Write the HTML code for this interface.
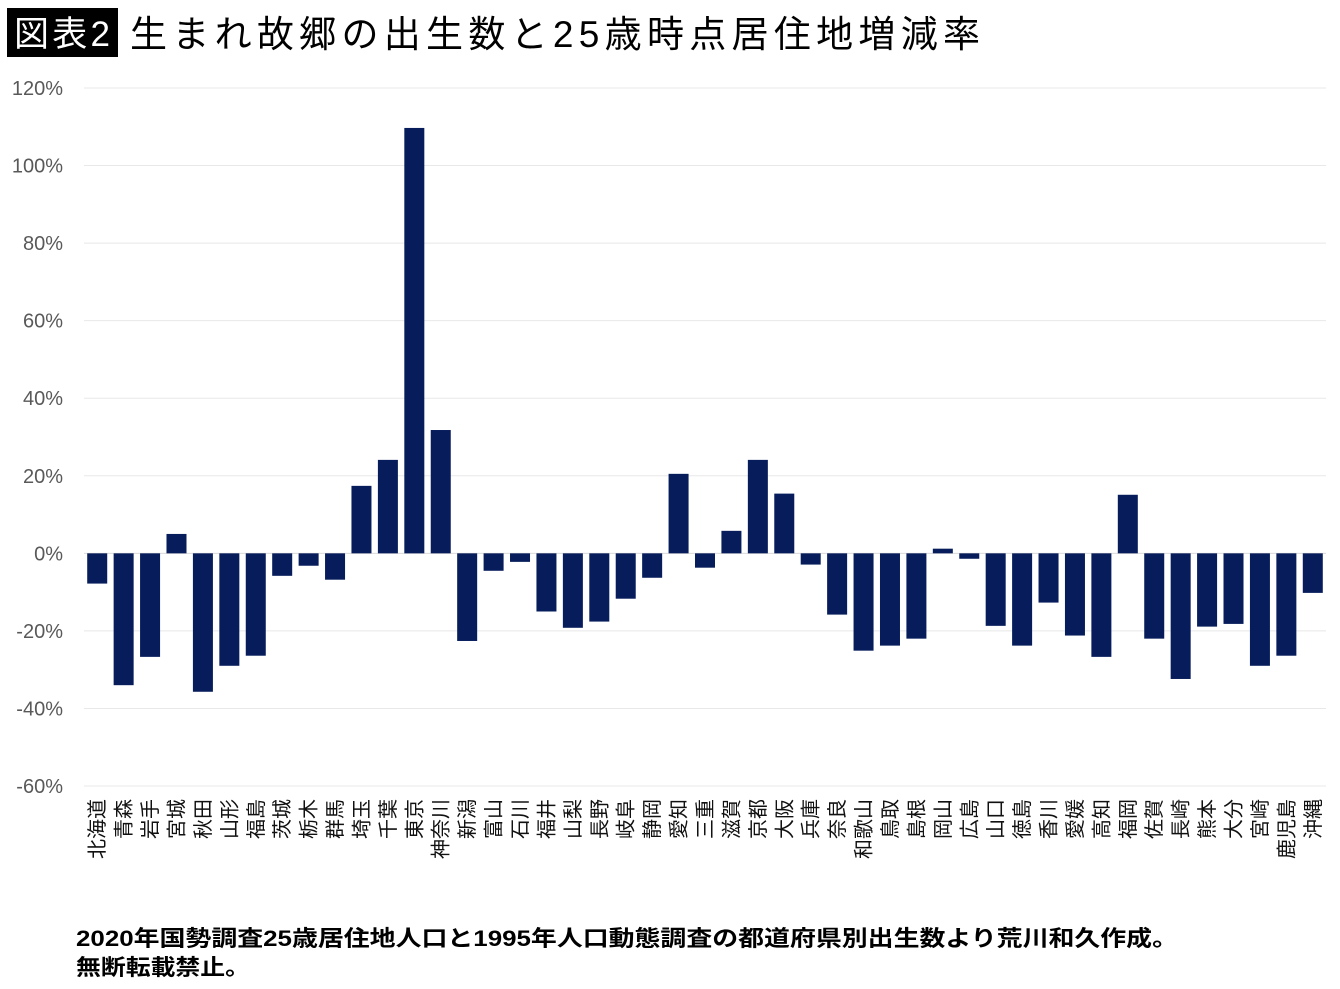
<!DOCTYPE html>
<html><head><meta charset="utf-8"><style>
html,body{margin:0;padding:0;background:#fff;}
svg{display:block;font-family:"Liberation Sans","Noto Sans CJK JP",sans-serif;}
</style></head><body>
<svg id="chart" width="1340" height="989" viewBox="0 0 1340 989">
<rect x="7" y="8" width="111" height="49" fill="#000"/>
<text x="62" y="46" fill="#fff" font-size="35" text-anchor="middle" textLength="96">図表2</text>
<text x="130" y="47" fill="#000" font-size="37" textLength="850">生まれ故郷の出生数と25歳時点居住地増減率</text>
<g id="grid"></g><g id="bars"></g><g id="xlabels"></g>
<text x="76" y="946" font-size="22" font-weight="bold" fill="#000" textLength="1102" lengthAdjust="spacingAndGlyphs">2020年国勢調査25歳居住地人口と1995年人口動態調査の都道府県別出生数より荒川和久作成。</text>
<text x="76" y="975" font-size="22" font-weight="bold" fill="#000" textLength="174" lengthAdjust="spacingAndGlyphs">無断転載禁止。</text>
</svg>
<script>
const categories=["北海道","青森","岩手","宮城","秋田","山形","福島","茨城","栃木","群馬","埼玉","千葉","東京","神奈川","新潟","富山","石川","福井","山梨","長野","岐阜","静岡","愛知","三重","滋賀","京都","大阪","兵庫","奈良","和歌山","鳥取","島根","岡山","広島","山口","徳島","香川","愛媛","高知","福岡","佐賀","長崎","熊本","大分","宮崎","鹿児島","沖縄"];
const values=[-7.8,-34,-26.7,5,-35.7,-29,-26.4,-5.8,-3.2,-6.8,17.4,24.1,109.7,31.8,-22.6,-4.5,-2.2,-15,-19.2,-17.6,-11.7,-6.3,20.5,-3.7,5.8,24.1,15.4,-2.9,-15.8,-25.1,-23.8,-22,1.2,-1.4,-18.7,-23.8,-12.7,-21.2,-26.7,15.1,-22,-32.4,-18.9,-18.2,-29,-26.4,-10.2];
const ticks=[120,100,80,60,40,20,0,-20,-40,-60];
const NS="http://www.w3.org/2000/svg";
const yMin=-60,yMax=120,plotTop=88,plotBot=786;
const yScale=v=>plotTop+(yMax-v)/(yMax-yMin)*(plotBot-plotTop);
const x0=84,x1=1326,step=(x1-x0)/categories.length;
const xc=i=>x0+step*(i+0.5);
const grid=document.getElementById('grid');
ticks.forEach(t=>{
  const l=document.createElementNS(NS,'line');
  l.setAttribute('x1',x0);l.setAttribute('x2',x1);l.setAttribute('y1',yScale(t));l.setAttribute('y2',yScale(t));
  l.setAttribute('stroke',t===0?'#d9d9d9':'#e8e8e8');l.setAttribute('stroke-width','1');
  
  
  grid.appendChild(l);
  const tx=document.createElementNS(NS,'text');
  tx.setAttribute('x',63);tx.setAttribute('y',yScale(t)+7);tx.setAttribute('text-anchor','end');
  tx.setAttribute('font-size','20');tx.setAttribute('fill','#595959');
  tx.textContent=t+'%';
  
  
  grid.appendChild(tx);
});
const bars=document.getElementById('bars'),xl=document.getElementById('xlabels');
categories.forEach((c,i)=>{
  const v=values[i];const r=document.createElementNS(NS,'rect');
  const bw=20;
  r.setAttribute('x',xc(i)-bw/2);r.setAttribute('width',bw);
  r.setAttribute('y',Math.min(yScale(v),yScale(0)));r.setAttribute('height',Math.abs(yScale(v)-yScale(0)));
  r.setAttribute('fill','#061c5b');
  
  
  bars.appendChild(r);
  const t=document.createElementNS(NS,'text');
  const lx=xc(i)+7,ly=799;
  t.setAttribute('x',lx);t.setAttribute('y',ly);
  t.setAttribute('transform','rotate(-90 '+lx+' '+ly+')');
  t.setAttribute('text-anchor','end');t.setAttribute('font-size','20');t.setAttribute('fill','#111');
  t.textContent=c;
  
  
  xl.appendChild(t);
});
</script>
</body></html>
